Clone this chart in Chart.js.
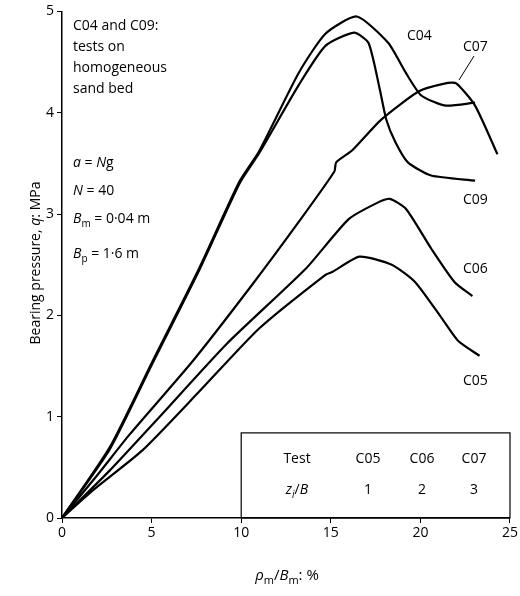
<!DOCTYPE html>
<html><head><meta charset="utf-8">
<script src="https://cdn.jsdelivr.net/npm/chart.js@4/dist/chart.umd.min.js"></script>
<style>body{margin:0;background:#fff}#w{width:520px;height:596px}</style>
</head><body><div id="w"><canvas id="c"></canvas></div>
<script>
const c04x=[0,2.67,5.06,7.67,9.9,11.0,13.2,14.7,16.45,18.2,19.2,20.05,21.4,23.05];
const c04y=[0,0.70,1.55,2.47,3.32,3.62,4.39,4.78,4.95,4.69,4.39,4.17,4.07,4.10];
const c09x=[0,2.67,5.06,7.67,9.9,11.0,13.2,14.7,16.3,17.1,17.7,18.1,18.6,19.3,20.6,23.05];
const c09y=[0,0.68,1.53,2.45,3.30,3.60,4.27,4.66,4.79,4.69,4.26,3.93,3.71,3.51,3.38,3.33];
const c07x=[0,2,3.8,7.3,10.6,13.2,15.2,15.3,16.2,17.8,19.9,21.4,22.0,23.05,24.3];
const c07y=[0,0.43,0.83,1.55,2.30,2.92,3.42,3.51,3.63,3.93,4.21,4.29,4.29,4.07,3.59];
const c06x=[0,2.67,5.4,9.2,13.6,16.0,17.7,18.3,19.2,20.6,21.9,22.9];
const c06y=[0,0.47,0.99,1.72,2.46,2.95,3.12,3.15,3.05,2.66,2.33,2.19];
const c05x=[0,1.7,4.5,7.67,11.0,14.7,15.1,16.6,18.4,19.7,21.2,22.1,23.3];
const c05y=[0,0.27,0.67,1.25,1.87,2.40,2.43,2.58,2.50,2.33,1.97,1.75,1.60];
const xTicks=[0,5,10,15,20,25];
const yTicks=[0,1,2,3,4,5];
const mk=(xs,ys)=>xs.map((x,i)=>({x,y:ys[i]}));
const FF='"Open Sans", sans-serif';
function runs(ctx,x,y,parts,size,align){
  let w=0;
  const f=p=>(p.i?'italic ':'')+(p.s?Math.round(size*0.72):size)+'px '+FF;
  parts.forEach(p=>{ctx.font=f(p);w+=ctx.measureText(p.t).width;});
  let cx=align==='center'?x-w/2:x;
  parts.forEach(p=>{ctx.font=f(p);ctx.fillText(p.t,cx,y+(p.s?4:0));cx+=ctx.measureText(p.t).width;});
}
const deco={id:'deco',afterDraw(ch){
  const ctx=ch.ctx, xs=ch.scales.x, ys=ch.scales.y;
  ctx.save();ctx.fillStyle='#000';ctx.strokeStyle='#000';ctx.textBaseline='alphabetic';
  const S=14;
  runs(ctx,73,30,[{t:'C04 and C09:'}],S);
  runs(ctx,73,51,[{t:'tests on'}],S);
  runs(ctx,73,72,[{t:'homogeneous'}],S);
  runs(ctx,73,93,[{t:'sand bed'}],S);
  runs(ctx,73,167,[{t:'a',i:1},{t:' = '},{t:'N',i:1},{t:'g'}],S);
  runs(ctx,73,195,[{t:'N',i:1},{t:' = 40'}],S);
  runs(ctx,73,223,[{t:'B',i:1},{t:'m',s:1},{t:' = 0·04 m'}],S);
  runs(ctx,73,258,[{t:'B',i:1},{t:'p',s:1},{t:' = 1·6 m'}],S);
  runs(ctx,407,40,[{t:'C04'}],S);
  runs(ctx,463,51,[{t:'C07'}],S);
  runs(ctx,463,204,[{t:'C09'}],S);
  runs(ctx,463,273,[{t:'C06'}],S);
  runs(ctx,463,385,[{t:'C05'}],S);
  ctx.lineWidth=1;ctx.beginPath();ctx.moveTo(474,56);ctx.lineTo(459,80);ctx.stroke();
  const L=xs.getPixelForValue(10), T=ys.getPixelForValue(0.84), R=xs.right, B=ys.bottom;
  ctx.lineWidth=1.2;ctx.strokeRect(L,T,R-L,B-T);
  runs(ctx,297,463,[{t:'Test'}],S,'center');
  runs(ctx,297,494,[{t:'z',i:1},{t:'i',i:1,s:1},{t:'/'},{t:'B',i:1}],S,'center');
  [['C05','1',368],['C06','2',422],['C07','3',474]].forEach(a=>{
    runs(ctx,a[2],463,[{t:a[0]}],S,'center');runs(ctx,a[2],494,[{t:a[1]}],S,'center');});
  runs(ctx,287,580,[{t:'ρ',i:1},{t:'m',s:1},{t:'/'},{t:'B',i:1},{t:'m',s:1},{t:': %'}],15,'center');
  ctx.translate(40,263);ctx.rotate(-Math.PI/2);
  runs(ctx,0,0,[{t:'Bearing pressure, '},{t:'q',i:1},{t:': MPa'}],S,'center');
  ctx.restore();
}};
const ds=(d)=>({data:d,borderColor:'#000',borderWidth:2.2,pointRadius:0,fill:false,tension:0.2});
new Chart(document.getElementById('c'),{type:'line',
 data:{datasets:[ds(mk(c04x,c04y)),ds(mk(c09x,c09y)),ds(mk(c07x,c07y)),ds(mk(c06x,c06y)),ds(mk(c05x,c05y))]},
 options:{responsive:true,maintainAspectRatio:false,animation:false,
  layout:{padding:{top:8,right:8,left:0,bottom:0}},
  plugins:{legend:{display:false},tooltip:{enabled:false}},
  scales:{
   x:{type:'linear',min:0,max:25,afterBuildTicks:s=>{s.ticks=xTicks.map(v=>({value:v}));},
      afterFit:s=>{s.height=78;},
      grid:{drawOnChartArea:false,tickLength:5,color:'#000'},border:{color:'#000',width:1.5},
      ticks:{color:'#000',font:{family:FF,size:14},padding:2,maxRotation:0}},
   y:{type:'linear',min:0,max:5,afterBuildTicks:s=>{s.ticks=yTicks.map(v=>({value:v}));},
      afterFit:s=>{s.width=62;},
      grid:{drawOnChartArea:false,tickLength:5,color:'#000'},border:{color:'#000',width:1.5},
      ticks:{color:'#000',font:{family:FF,size:14},padding:3}}
  }},plugins:[deco]});
</script></body></html>
